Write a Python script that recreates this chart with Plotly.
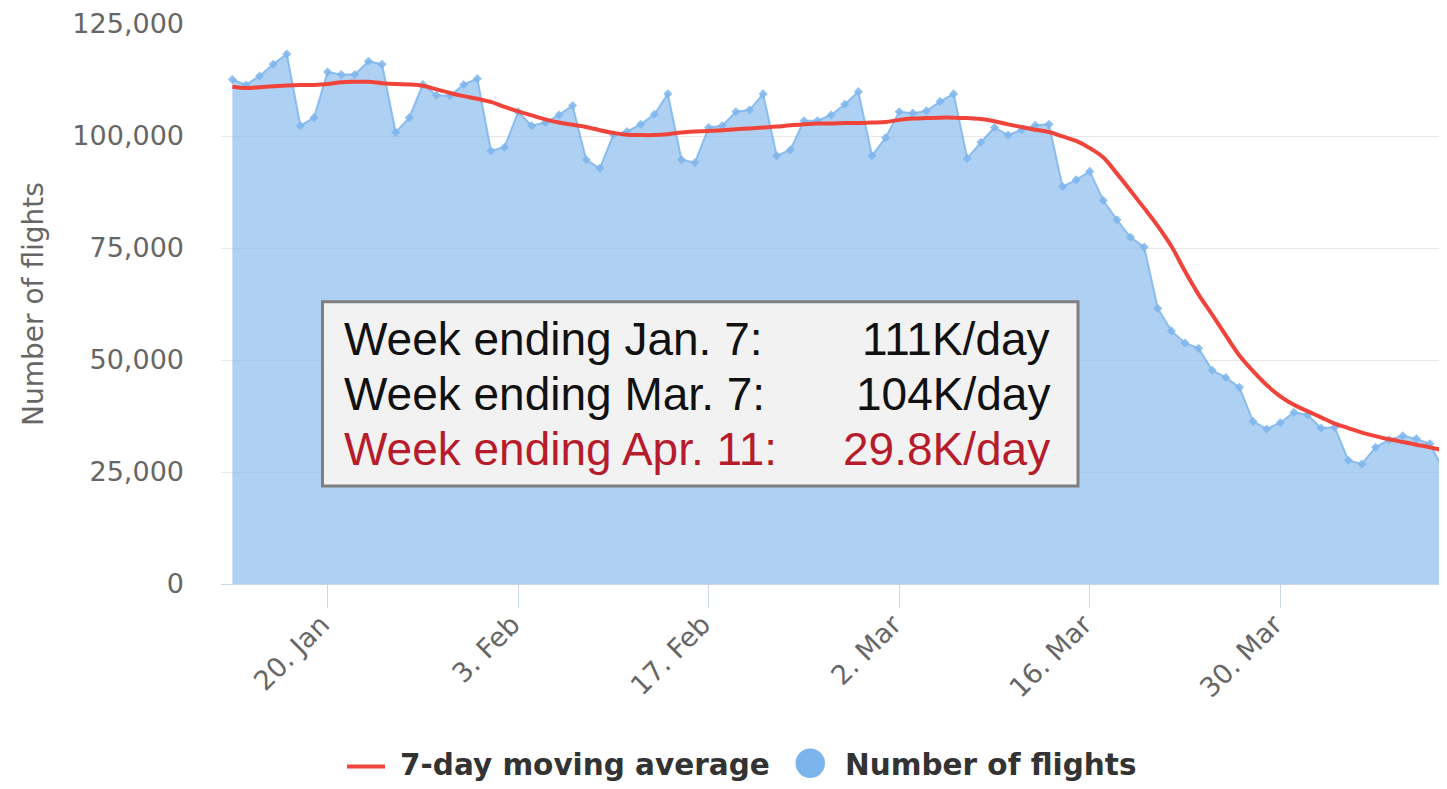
import pandas as pd
import plotly.graph_objects as go

# ---------------- data ----------------
dates = pd.date_range("2020-01-13", "2020-04-11", freq="D")

flights_k = [
    112.6, 111.4, 113.4, 116.0, 118.3, 102.3, 104.1,            # Jan 13-19
    114.3, 113.7, 113.7, 116.7, 116.0, 100.8, 104.1,            # Jan 20-26
    111.5, 109.1, 109.0, 111.5, 112.8, 96.7, 97.5,              # Jan 27-Feb 2
    105.4, 102.3, 103.0, 104.7, 106.8, 94.7, 92.8,              # Feb 3-9
    100.3, 101.0, 102.6, 104.8, 109.4, 94.7, 94.1,              # Feb 10-16
    101.9, 102.3, 105.4, 105.8, 109.4, 95.6, 96.9,              # Feb 17-23
    103.4, 103.4, 104.7, 107.1, 109.9, 95.6, 99.6,              # Feb 24-Mar 1
    105.4, 105.1, 105.6, 107.7, 109.4, 95.0, 98.6,              # Mar 2-8
    101.9, 100.2, 101.4, 102.4, 102.6, 88.7, 90.2,              # Mar 9-15
    92.1, 85.6, 81.3, 77.4, 75.2, 61.5, 56.5,                   # Mar 16-22
    53.8, 52.6, 47.7, 46.1, 43.9, 36.3, 34.6,                   # Mar 23-29
    36.0, 38.3, 37.8, 34.8, 35.0, 27.6, 26.8,                   # Mar 30-Apr 5
    30.5, 32.2, 33.1, 32.4, 31.3, 25.4,                         # Apr 6-11
]

moving_avg_k = [
    111.0, 110.7, 110.9, 111.1, 111.3, 111.4, 111.4,
    111.6, 112.0, 112.1, 112.1, 111.8, 111.6, 111.5,
    111.2, 110.4, 109.6, 108.9, 108.3, 107.6, 106.5,
    105.5, 104.6, 103.7, 103.0, 102.5, 102.0, 101.3,
    100.7, 100.3, 100.2, 100.2, 100.4, 100.8, 101.0,
    101.1, 101.3, 101.5, 101.7, 101.9, 102.1, 102.4,
    102.6, 102.8, 102.8, 102.9, 102.9, 103.0, 103.1,
    103.6, 103.9, 104.0, 104.1, 104.1, 104.0, 103.8,
    103.3, 102.6, 102.0, 101.4, 100.9, 99.9, 98.9,
    97.3, 95.2, 91.6, 87.8, 83.9, 79.9, 75.4,
    69.8, 64.6, 60.1, 55.5, 51.0, 47.5, 44.4,
    41.9, 40.0, 38.6, 37.2, 35.8, 34.8, 33.8,
    33.0, 32.3, 31.7, 31.1, 30.5, 29.8,
]

flights = [v * 1000 for v in flights_k]
moving_avg = [v * 1000 for v in moving_avg_k]

y_ticks = [0, 25000, 50000, 75000, 100000, 125000]

box_left = ["Week ending Jan. 7:", "Week ending Mar. 7:", "Week ending Apr. 11:"]
box_right = ["111K/day", "104K/day", "29.8K/day"]
box_colors = ["#111111", "#111111", "#b71c2c"]

series_names = ["7-day moving average", "Number of flights"]

# ---------------- layout helpers (page pixel -> paper) ----------------
OFF = 8                      # default body margin of the html page
PAGE_W, PAGE_H = 1447, 789
L, R, T, B = 221, 1447, 24, 584   # plot area in page pixels
PW, PH = R - L, B - T
FIG_W = PAGE_W - OFF
FIG_H = 773


def px(x):
    return (x - L) / PW


def py(y):
    return (B - y) / PH


AREA_FILL = "rgba(124,181,236,0.62)"
AREA_LINE = "rgba(124,181,236,0.85)"
RED = "#f0443a"

fig = go.Figure()

fig.add_trace(go.Scatter(
    x=dates, y=flights, name=series_names[1],
    mode="lines+markers", fill="tozeroy", fillcolor=AREA_FILL,
    line=dict(color=AREA_LINE, width=2),
    marker=dict(symbol="diamond", size=7, color=AREA_LINE),
    showlegend=False,
))

fig.add_trace(go.Scatter(
    x=dates, y=moving_avg, name=series_names[0],
    mode="lines",
    line=dict(color=RED, width=4, shape="spline", smoothing=1),
    showlegend=False,
))

shapes = []
annotations = []

# annotation box
shapes.append(dict(
    type="rect", xref="paper", yref="paper",
    x0=px(322.5), x1=px(1078), y0=py(486), y1=py(301.7),
    line=dict(color="#7f7f7f", width=3), fillcolor="#f2f2f2", layer="above",
))
baselines = [354.5, 409.5, 464.5]
for lt, rt, col, bl in zip(box_left, box_right, box_colors, baselines):
    cy = bl - 16
    annotations.append(dict(
        xref="paper", yref="paper", x=px(342), y=py(cy),
        xanchor="left", yanchor="middle", text=lt, showarrow=False,
        font=dict(family="Liberation Sans, Arial", size=46, color=col),
    ))
    annotations.append(dict(
        xref="paper", yref="paper", x=px(1052), y=py(cy),
        xanchor="right", yanchor="middle", text=rt, showarrow=False,
        font=dict(family="Liberation Sans, Arial", size=46, color=col),
    ))

# custom legend (bottom)
shapes.append(dict(
    type="line", xref="paper", yref="paper",
    x0=px(347), x1=px(385), y0=py(766.5), y1=py(766.5),
    line=dict(color=RED, width=4),
))
shapes.append(dict(
    type="circle", xref="paper", yref="paper",
    x0=px(795.5), x1=px(825), y0=py(778), y1=py(748.5),
    line=dict(width=0), fillcolor="#7cb5ec",
))
legend_font = dict(family="DejaVu Sans", size=29.5, color="#333333", weight="bold")
annotations.append(dict(
    xref="paper", yref="paper", x=px(398), y=py(765),
    xanchor="left", yanchor="middle", text=series_names[0],
    showarrow=False, font=legend_font,
))
annotations.append(dict(
    xref="paper", yref="paper", x=px(843), y=py(765),
    xanchor="left", yanchor="middle", text=series_names[1],
    showarrow=False, font=legend_font,
))

tick_font = dict(family="DejaVu Sans", size=27, color="#666666")

fig.update_layout(
    width=FIG_W, height=FIG_H,
    margin=dict(l=L - OFF, r=0, t=T - OFF, b=FIG_H - (B - OFF), autoexpand=False),
    paper_bgcolor="white", plot_bgcolor="white",
    showlegend=False,
    shapes=shapes, annotations=annotations,
    xaxis=dict(
        type="date",
        range=["2020-01-12 04:00", "2020-04-11 06:00"],
        tick0="2020-01-20", dtick=14 * 86400000,
        tickformat="%-d. %b", tickangle=-45,
        tickfont=tick_font,
        ticks="outside", ticklen=23, tickcolor="#ccd6eb", tickwidth=1,
        showline=True, linecolor="#ccd6eb", linewidth=1,
        showgrid=False, zeroline=False,
        ticklabelstandoff=-10, ticklabelshift=-6,
    ),
    yaxis=dict(
        range=[0, 125000],
        tickvals=y_ticks, tickformat=",",
        tickfont=tick_font,
        showgrid=True, gridcolor="#e6e6e6", gridwidth=1,
        zeroline=False, showline=False, ticks="",
        ticklabelstandoff=36, ticklabeloverflow="allow",
        title=dict(text="Number of flights",
                   font=dict(family="DejaVu Sans", size=28, color="#666666"),
                   standoff=20),
    ),
)

fig.write_html("out.html")
